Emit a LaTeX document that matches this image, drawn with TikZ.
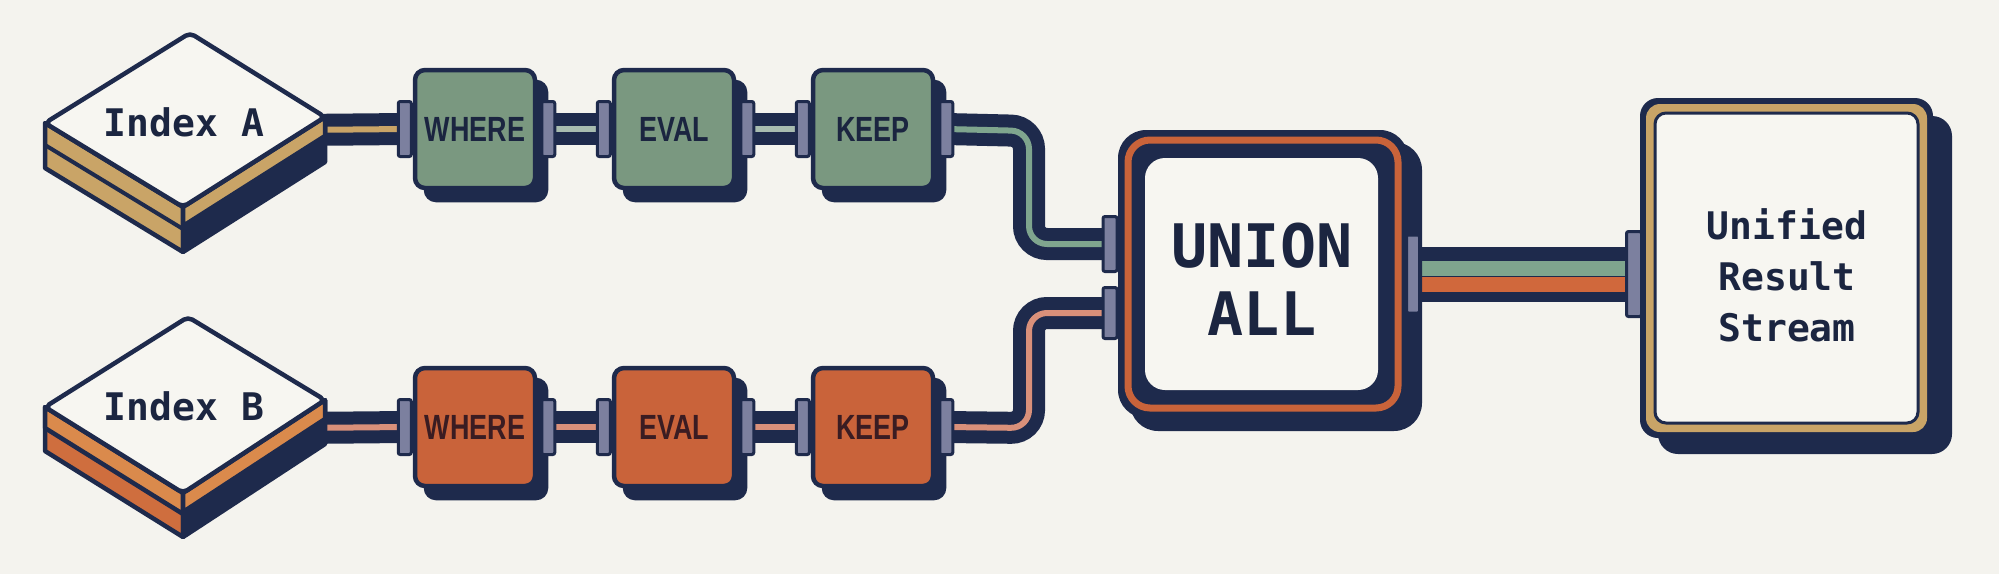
\documentclass[tikz,border=0pt]{standalone}
\usepackage{fontspec}
\usetikzlibrary{shadows}
\newfontfamily\monof{DejaVu Sans Mono}
\newfontfamily\condf[FakeStretch=0.77]{Liberation Sans}
\definecolor{bgc}{HTML}{F4F3EE}
\definecolor{navy}{HTML}{1E2A4C}
\definecolor{sage}{HTML}{7A9880}
\definecolor{rust}{HTML}{C9633A}
\definecolor{gold}{HTML}{C9A467}
\definecolor{pinc}{HTML}{7C809F}
\definecolor{lightstripe}{HTML}{A8BCB0}
\definecolor{salmon}{HTML}{D9907A}
\definecolor{greenstripe}{HTML}{7FA58E}
\definecolor{orangestripe}{HTML}{D0683C}
\definecolor{orangeA}{HTML}{DA8A4C}
\definecolor{orangeB}{HTML}{CF6E3E}
\definecolor{paper}{HTML}{F7F6F1}
\definecolor{txtnavy}{HTML}{1B2540}
\definecolor{txtrust}{HTML}{3A1C22}
\pgfdeclarelayer{back}
\pgfdeclarelayer{pipes}
\pgfsetlayers{back,pipes,main}
\begin{document}
\begin{tikzpicture}[x=1pt,y=-1pt,
  stripe/.style={draw=#1, line width=6pt, rounded corners=18pt,
    preaction={draw=navy, line width=32pt, rounded corners=18pt}},
  stepbox/.style={draw=navy, line width=4.5pt, rounded corners=10pt,
    minimum width=120pt, minimum height=118pt, inner sep=0pt,
    font=\condf\bfseries\fontsize{35}{35}\selectfont,
    drop shadow={shadow xshift=11pt, shadow yshift=-12pt, fill=navy, draw=navy, opacity=1}},
  greenbox/.style={stepbox, fill=sage, text=txtnavy},
  rustbox/.style={stepbox, fill=rust, text=txtrust},
  pin/.style={draw=navy, fill=pinc, line width=3pt, rounded corners=2pt,
    minimum width=13pt, minimum height=55pt, inner sep=0pt},
  idxtext/.style={font=\monof\bfseries\fontsize{38}{38}\selectfont, text=txtnavy},
  outline/.style={draw=navy, line width=4.5pt, line join=round}
]
\useasboundingbox (0,0) rectangle (1999,574);
\begin{pgfonlayer}{back}
\fill[bgc] (0,0) rectangle (1999,574);
\end{pgfonlayer}

% ---------- Index A ----------
\coordinate (aT) at (190,33);
\coordinate (aL) at (45,123);
\coordinate (aR) at (325,117);
\coordinate (aB) at (183,207);
\filldraw[fill=gold, outline] (aL) -- (aB) -- ([yshift=-45pt]aB) -- ([yshift=-45pt]aL) -- cycle;
\draw[navy, line width=4pt] ([yshift=-22pt]aL) -- ([yshift=-22pt]aB);
\filldraw[fill=navy, outline] (aB) -- (aR) -- ([yshift=-45pt]aR) -- ([yshift=-45pt]aB) -- cycle;
\filldraw[fill=gold, outline] (aB) -- (aR) -- ([yshift=-19pt]aR) -- ([yshift=-19pt]aB) -- cycle;
\filldraw[fill=paper, outline, rounded corners=5pt] (aT) -- (aR) -- (aB) -- (aL) -- cycle;
\node[idxtext] (ia) at (184,122) {Index A};
\coordinate (ia-r) at (300,130);

% ---------- Index B ----------
\coordinate (bT) at (188,317);
\coordinate (bL) at (45,407);
\coordinate (bR) at (325,400);
\coordinate (bB) at (183,493);
\filldraw[fill=orangeB, outline] (bL) -- (bB) -- ([yshift=-44pt]bB) -- ([yshift=-44pt]bL) -- cycle;
\filldraw[fill=orangeA, outline] (bL) -- (bB) -- ([yshift=-21pt]bB) -- ([yshift=-21pt]bL) -- cycle;
\filldraw[fill=navy, outline] (bB) -- (bR) -- ([yshift=-44pt]bR) -- ([yshift=-44pt]bB) -- cycle;
\filldraw[fill=orangeA, outline] (bB) -- (bR) -- ([yshift=-19pt]bR) -- ([yshift=-19pt]bB) -- cycle;
\filldraw[fill=paper, outline, rounded corners=5pt] (bT) -- (bR) -- (bB) -- (bL) -- cycle;
\node[idxtext] (ib) at (184,406) {Index B};
\coordinate (ib-r) at (300,428);

% ---------- step boxes ----------
\node[greenbox] (wa) at (475,129) {WHERE};
\node[greenbox] (ea) at (674,129) {EVAL};
\node[greenbox] (ka) at (873,129) {KEEP};
\node[rustbox] (wb) at (475,427) {WHERE};
\node[rustbox] (eb) at (674,427) {EVAL};
\node[rustbox] (kb) at (873,427) {KEEP};

\foreach \b in {wa,ea,ka,wb,eb,kb}{
  \node[pin] (\b-l) at ([xshift=-8pt]\b.west) {};
  \node[pin] (\b-r) at ([xshift=11pt]\b.east) {};
}

% ---------- UNION ALL ----------
\fill[navy, rounded corners=28pt] (1130,142) rectangle (1422,431);
\fill[navy, rounded corners=28pt] (1118,130) rectangle (1408,418);
\draw[rust, line width=7pt, rounded corners=22pt] (1128,140) rectangle (1398,408);
\fill[paper, rounded corners=20pt] (1145,158) rectangle (1378,390);
\node[font=\monof\bfseries\fontsize{60}{68}\selectfont, text=txtnavy, align=center] (un) at (1262,279) {UNION\\ALL};
\node[pin, minimum width=14pt] (ul1) at (1110,244) {};
\node[pin, minimum width=14pt, minimum height=51pt] (ul2) at (1110,313) {};
\node[pin, minimum height=78pt] (ur) at (1413,274) {};

% ---------- Result ----------
\fill[navy, rounded corners=20pt] (1658,116) rectangle (1952,454);
\fill[navy, rounded corners=18pt] (1640,98) rectangle (1933,438);
\fill[gold, rounded corners=14pt] (1646,104) rectangle (1927,432);
\filldraw[fill=paper, draw=navy, line width=3pt, rounded corners=11pt] (1655,113) rectangle (1918,423);
\node[font=\monof\bfseries\fontsize{38}{51}\selectfont, text=txtnavy, align=center] (res) at (1787,275) {Unified\\Result\\Stream};
\node[pin, minimum width=15pt, minimum height=85pt] (rl) at (1634,274) {};

% ---------- pipes ----------
\begin{pgfonlayer}{pipes}
\draw[stripe=gold] (ia-r) -- (wa-l.center);
\draw[stripe=lightstripe] (wa-r.center) -- (ea-l.center);
\draw[stripe=lightstripe] (ea-r.center) -- (ka-l.center);
\draw[stripe=greenstripe] (ka-r.center) -- (1029,131) -- (1029,244) -- (ul1.center);
\draw[stripe=salmon] (ib-r) -- (wb-l.center);
\draw[stripe=salmon] (wb-r.center) -- (eb-l.center);
\draw[stripe=salmon] (eb-r.center) -- (kb-l.center);
\draw[stripe=salmon] (kb-r.center) -- (1029,428) -- (1029,313) -- (ul2.center);
\draw[navy, line width=55pt] (ur.center) -- (rl.center);
\draw[greenstripe, line width=15pt] ([yshift=5.5pt]ur.center) -- ([yshift=5.5pt]rl.center);
\draw[orangestripe, line width=15pt] ([yshift=-10.5pt]ur.center) -- ([yshift=-10.5pt]rl.center);
\end{pgfonlayer}
\end{tikzpicture}
\end{document}
